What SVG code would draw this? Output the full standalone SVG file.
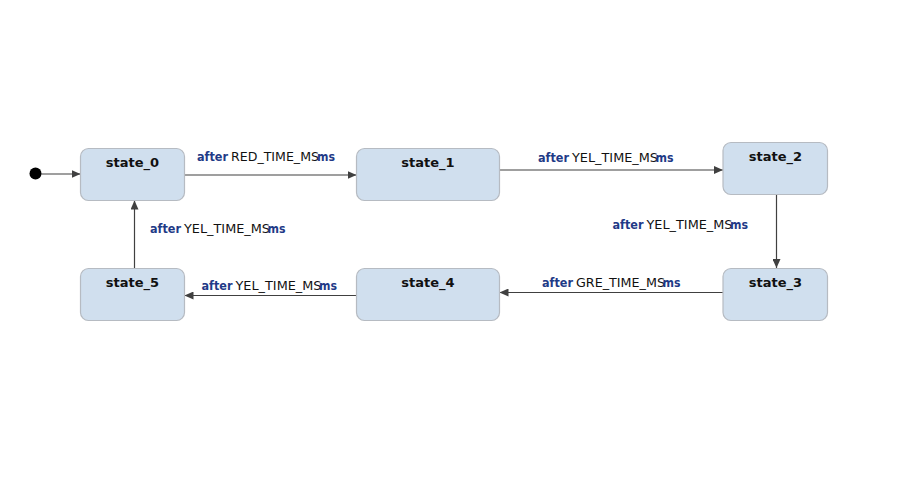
<svg xmlns="http://www.w3.org/2000/svg" width="909" height="496" viewBox="0 0 909 496">
<defs>
<style>
.st{fill:#d0dfee;stroke:#b6bbc2;stroke-width:1.2}
.sl{font-family:"DejaVu Sans",Verdana,sans-serif;font-size:13px;font-weight:bold;fill:#111;text-anchor:middle}
.lb{font-family:"DejaVu Sans",Verdana,sans-serif;font-size:12.5px;fill:#111}
.kw{font-weight:bold;fill:#1f3a87;font-size:12px}
.ed{stroke:#404040;stroke-width:1.2;fill:none;marker-end:url(#ah)}
</style>
<marker id="ah" markerUnits="userSpaceOnUse" markerWidth="9" markerHeight="8" refX="9" refY="4" orient="auto">
<path d="M0,0 L9,4 L0,8 z" fill="#404040"/>
</marker>
</defs>
<rect width="909" height="496" fill="#fff"/>
<g id="edges">
<circle cx="35.5" cy="173.5" r="6" fill="#000"/>
<line class="ed" x1="41" y1="174" x2="80.5" y2="174"/>
<line class="ed" x1="184.5" y1="175" x2="356.5" y2="175"/>
<line class="ed" x1="499.5" y1="170" x2="723" y2="170"/>
<line class="ed" x1="776.5" y1="194.5" x2="776.5" y2="268"/>
<line class="ed" x1="723" y1="292.5" x2="499.5" y2="292.5"/>
<line class="ed" x1="356.5" y1="295.5" x2="184.5" y2="295.5"/>
<line class="ed" x1="134.5" y1="268" x2="134.5" y2="200.5"/>
<text class="lb" y="161"><tspan class="kw" x="197" textLength="31" lengthAdjust="spacingAndGlyphs">after</tspan><tspan x="231" textLength="88" lengthAdjust="spacingAndGlyphs">RED_TIME_MS</tspan><tspan class="kw" x="317" textLength="18" lengthAdjust="spacingAndGlyphs">ms</tspan></text>
<text class="lb" y="162"><tspan class="kw" x="538" textLength="31" lengthAdjust="spacingAndGlyphs">after</tspan><tspan x="572" textLength="86" lengthAdjust="spacingAndGlyphs">YEL_TIME_MS</tspan><tspan class="kw" x="655.5" textLength="18" lengthAdjust="spacingAndGlyphs">ms</tspan></text>
<text class="lb" y="229"><tspan class="kw" x="612.5" textLength="31" lengthAdjust="spacingAndGlyphs">after</tspan><tspan x="646.5" textLength="86" lengthAdjust="spacingAndGlyphs">YEL_TIME_MS</tspan><tspan class="kw" x="730" textLength="18" lengthAdjust="spacingAndGlyphs">ms</tspan></text>
<text class="lb" y="287"><tspan class="kw" x="542" textLength="31" lengthAdjust="spacingAndGlyphs">after</tspan><tspan x="576" textLength="89" lengthAdjust="spacingAndGlyphs">GRE_TIME_MS</tspan><tspan class="kw" x="662.5" textLength="18" lengthAdjust="spacingAndGlyphs">ms</tspan></text>
<text class="lb" y="290"><tspan class="kw" x="201.5" textLength="31" lengthAdjust="spacingAndGlyphs">after</tspan><tspan x="235.5" textLength="86" lengthAdjust="spacingAndGlyphs">YEL_TIME_MS</tspan><tspan class="kw" x="319" textLength="18" lengthAdjust="spacingAndGlyphs">ms</tspan></text>
<text class="lb" y="233"><tspan class="kw" x="150" textLength="31" lengthAdjust="spacingAndGlyphs">after</tspan><tspan x="184" textLength="86" lengthAdjust="spacingAndGlyphs">YEL_TIME_MS</tspan><tspan class="kw" x="267.5" textLength="18" lengthAdjust="spacingAndGlyphs">ms</tspan></text>
</g>
<g id="state_0"><rect class="st" x="80.5" y="148.5" width="104" height="52" rx="8"/><text class="sl" x="132.5" y="167">state_0</text></g>
<g id="state_1"><rect class="st" x="356.5" y="148.5" width="143" height="52" rx="8"/><text class="sl" x="428" y="167">state_1</text></g>
<g id="state_2"><rect class="st" x="723" y="142.5" width="104.5" height="52" rx="8"/><text class="sl" x="775.5" y="161">state_2</text></g>
<g id="state_3"><rect class="st" x="723" y="268.5" width="104.5" height="52" rx="8"/><text class="sl" x="775.5" y="287">state_3</text></g>
<g id="state_4"><rect class="st" x="356.5" y="268.5" width="143" height="52" rx="8"/><text class="sl" x="428" y="287">state_4</text></g>
<g id="state_5"><rect class="st" x="80.5" y="268.5" width="104" height="52" rx="8"/><text class="sl" x="132.5" y="287">state_5</text></g>
</svg>
